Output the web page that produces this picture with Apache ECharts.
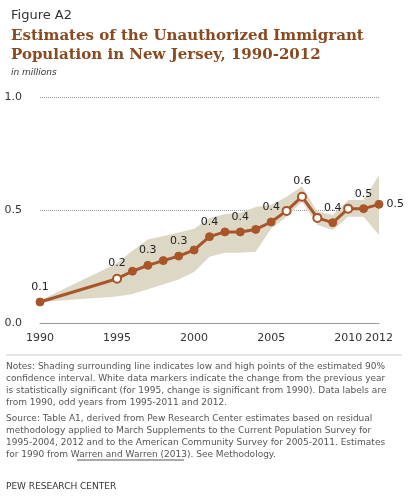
<!DOCTYPE html>
<html><head><meta charset="utf-8">
<script src="https://cdn.jsdelivr.net/npm/echarts@6/dist/echarts.min.js"></script>
<style>html,body{margin:0;padding:0;background:#fff}#c{width:408px;height:499px}</style>
</head><body><div id="c"></div>
<script>
var years = [1990,1995,1996,1997,1998,1999,2000,2001,2002,2003,2004,2005,2006,2007,2008,2009,2010,2011,2012];
var values = [0.093,0.196,0.229,0.255,0.276,0.296,0.323,0.382,0.403,0.403,0.414,0.447,0.496,0.559,0.465,0.444,0.506,0.506,0.525];
var lows = [0.093,0.117,0.128,0.149,0.17,0.193,0.226,0.293,0.311,0.311,0.315,0.418,0.47,0.537,0.434,0.412,0.47,0.47,0.389];
var highs = [0.1,0.264,0.32,0.37,0.385,0.40,0.417,0.465,0.482,0.488,0.513,0.522,0.559,0.604,0.493,0.478,0.544,0.544,0.655];
var openYears = [1995,2006,2007,2008,2010];
var labelYears = [1990,1995,1997,1999,2001,2003,2005,2007,2009,2011,2012];
var tickYears = [1990,1995,2000,2005,2010,2012];

var chart = echarts.init(document.getElementById('c'));
var font = 'Verdana, "DejaVu Sans", sans-serif';

var lineData = years.map(function (y, i) {
  var open = openYears.indexOf(y) >= 0;
  var lab = labelYears.indexOf(y) >= 0;
  return {
    value: [y, values[i]],
    itemStyle: { color: open ? '#fff' : '#a9552a', borderColor: '#a9552a', borderWidth: open ? 2 : 1 },
    label: { show: lab, position: y === 2012 ? 'right' : 'top', distance: y === 2012 ? 3 : 5 }
  };
});

// band polygon: highs left to right, lows right to left
function renderBand(params, api) {
  if (params.dataIndex !== 0) return;
  var pts = [];
  for (var i = 0; i < years.length; i++) pts.push(api.coord([years[i], highs[i]]));
  for (var j = years.length - 1; j >= 0; j--) pts.push(api.coord([years[j], lows[j]]));
  return { type: 'polygon', shape: { points: pts }, style: { fill: '#ddd8c6' } };
}

chart.setOption({
  animation: false,
  grid: { left: 40, right: 29, top: 97, bottom: 176 },
  title: [
    { text: 'Figure A2', left: 6, top: 4, textStyle: { fontFamily: font, fontSize: 13, fontWeight: 'normal', color: '#333' } },
    { text: 'Estimates of the Unauthorized Immigrant\nPopulation in New Jersey, 1990-2012', left: 6, top: 22,
      textStyle: { fontFamily: 'Georgia, "DejaVu Serif", serif', fontSize: 15, fontWeight: 'bold', color: '#8a4a1f', lineHeight: 19 } },
    { text: 'in millions', left: 6, top: 63, textStyle: { fontFamily: font, fontSize: 9, fontStyle: 'italic', fontWeight: 'normal', color: '#333' } }
  ],
  xAxis: {
    type: 'value', min: 1990, max: 2012, interval: 1,
    axisLine: { show: true, lineStyle: { color: '#999' } },
    axisTick: { show: false }, splitLine: { show: false },
    axisLabel: {
      fontFamily: font, fontSize: 11, color: '#333', margin: 10, showMaxLabel: true,
      formatter: function (v) { return tickYears.indexOf(v) >= 0 ? String(v) : ''; }
    }
  },
  yAxis: {
    type: 'value', min: 0, max: 1, interval: 0.5,
    axisLine: { show: false }, axisTick: { show: false },
    splitLine: { lineStyle: { color: '#999', type: 'dotted' } },
    axisLabel: { fontFamily: font, fontSize: 11, color: '#333', margin: 18, formatter: function (v) { return v.toFixed(1); } }
  },
  series: [
    { type: 'custom', renderItem: renderBand, silent: true, z: 1,
      data: years.map(function (y, i) { return [y, lows[i], highs[i]]; }), encode: { x: 0, y: [1, 2] } },
    { type: 'line', symbol: 'circle', symbolSize: 8, lineStyle: { color: '#a9552a', width: 3 },
      label: { fontFamily: font, fontSize: 11, color: '#222', formatter: function (p) { return p.value[1].toFixed(1); } },
      data: lineData, z: 5 }
  ],
  graphic: [
    { type: 'line', shape: { x1: 6, y1: 355, x2: 402, y2: 355 }, style: { stroke: '#ccc' } },
    { type: 'text', left: 6, top: 361, style: { fontFamily: font, fontSize: 9, fill: '#555', lineHeight: 12,
      text: 'Notes: Shading surrounding line indicates low and high points of the estimated 90%\nconfidence interval. White data markers indicate the change from the previous year\nis statistically significant (for 1995, change is significant from 1990). Data labels are\nfrom 1990, odd years from 1995-2011 and 2012.' } },
    { type: 'text', left: 6, top: 413, style: { fontFamily: font, fontSize: 9, fill: '#555', lineHeight: 12,
      text: 'Source: Table A1, derived from Pew Research Center estimates based on residual\nmethodology applied to March Supplements to the Current Population Survey for\n1995-2004, 2012 and to the American Community Survey for 2005-2011. Estimates\nfor 1990 from Warren and Warren (2013). See Methodology.' } },
    { type: 'line', shape: { x1: 77, y1: 460, x2: 184, y2: 460 }, style: { stroke: '#555' } },
    { type: 'text', left: 6, top: 482, style: { fontFamily: font, fontSize: 9, fill: '#333', text: 'PEW RESEARCH CENTER' } }
  ]
});
</script></body></html>
